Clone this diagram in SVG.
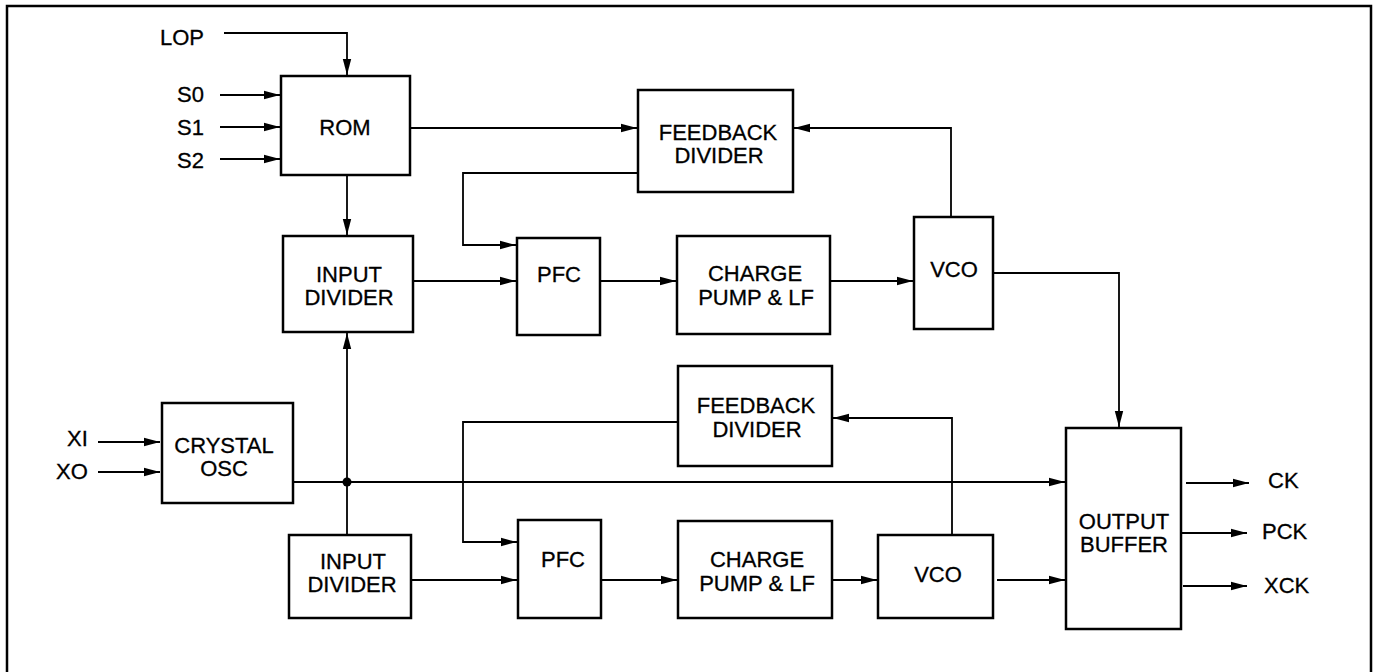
<svg xmlns="http://www.w3.org/2000/svg" width="1389" height="672" viewBox="0 0 1389 672">
<defs>
<marker id="ah" markerUnits="userSpaceOnUse" markerWidth="17" markerHeight="10" refX="16" refY="5" orient="auto">
<path d="M0,0.8 L16,5 L0,9.2 Z" fill="#000"/>
</marker>
</defs>
<style>
.box{fill:#fff;stroke:#000;stroke-width:2.5}
.ar{fill:none;stroke:#000;stroke-width:1.8;marker-end:url(#ah)}
text{font-family:"Liberation Sans",Arial,sans-serif;font-size:22px;fill:#000;stroke:#000;stroke-width:0.3;text-anchor:middle}
.lbl{text-anchor:start}
</style>
<rect x="0" y="0" width="1389" height="672" fill="#fff"/>
<path d="M7,672 L7,6 L1371,6 L1371,672" fill="none" stroke="#000" stroke-width="2.5"/>

<g id="connectors">
<path class="ar" d="M224,33 L347,33 L347,75"/>
<path class="ar" d="M220,95 L280,95"/>
<path class="ar" d="M220,127 L280,127"/>
<path class="ar" d="M220,159 L280,159"/>
<path class="ar" d="M347,175 L347,235"/>
<path class="ar" d="M410,128 L637,128"/>
<path class="ar" d="M638,173 L463,173 L463,245 L516,245"/>
<path class="ar" d="M413,281 L516,281"/>
<path class="ar" d="M600,281 L676,281"/>
<path class="ar" d="M830,281 L913,281"/>
<path class="ar" d="M951,217 L951,128 L794,128"/>
<path class="ar" d="M993,273 L1119,273 L1119,427"/>
<path class="ar" d="M98,442 L160,442"/>
<path class="ar" d="M98,472 L160,472"/>
<path class="ar" d="M293,482 L1065,482"/>
<path class="ar" d="M347,535 L347,333"/>
<circle cx="347" cy="482" r="4.5" fill="#000"/>
<path class="ar" d="M952,535 L952,418 L833,418"/>
<path class="ar" d="M678,422 L463,422 L463,542 L517,542"/>
<path class="ar" d="M411,580 L517,580"/>
<path class="ar" d="M601,580 L677,580"/>
<path class="ar" d="M832,580 L877,580"/>
<path class="ar" d="M997,580 L1065,580"/>
<path class="ar" d="M1186,483 L1249,483"/>
<path class="ar" d="M1181,533 L1247,533"/>
<path class="ar" d="M1183,586 L1247,586"/>
</g>

<g id="labels">
<text class="lbl" x="160" y="45">LOP</text>
<text class="lbl" x="177" y="102">S0</text>
<text class="lbl" x="177" y="135">S1</text>
<text class="lbl" x="177" y="168">S2</text>
<text class="lbl" x="67" y="446">XI</text>
<text class="lbl" x="56" y="479">XO</text>
<text class="lbl" x="1268" y="488">CK</text>
<text class="lbl" x="1262" y="539">PCK</text>
<text class="lbl" x="1264" y="593">XCK</text>
</g>

<g id="rom"><rect class="box" x="281" y="76" width="129" height="99"/><text x="345" y="135">ROM</text></g>
<g id="input-divider-1"><rect class="box" x="283" y="236" width="130" height="96"/><text x="349" y="282">INPUT</text><text x="349" y="305">DIVIDER</text></g>
<g id="feedback-divider-1"><rect class="box" x="638" y="90" width="155" height="102"/><text x="718" y="140">FEEDBACK</text><text x="719" y="163">DIVIDER</text></g>
<g id="pfc-1"><rect class="box" x="517" y="238" width="83" height="97"/><text x="559" y="282">PFC</text></g>
<g id="charge-pump-1"><rect class="box" x="677" y="236" width="153" height="98"/><text x="755" y="281">CHARGE</text><text x="756" y="305">PUMP &amp; LF</text></g>
<g id="vco-1"><rect class="box" x="914" y="217" width="79" height="112"/><text x="954" y="277">VCO</text></g>
<g id="crystal-osc"><rect class="box" x="162" y="403" width="131" height="100"/><text x="224" y="453">CRYSTAL</text><text x="224" y="476">OSC</text></g>
<g id="feedback-divider-2"><rect class="box" x="678" y="366" width="154" height="100"/><text x="756" y="413">FEEDBACK</text><text x="757" y="437">DIVIDER</text></g>
<g id="input-divider-2"><rect class="box" x="289" y="535" width="122" height="83"/><text x="353" y="569">INPUT</text><text x="352" y="592">DIVIDER</text></g>
<g id="pfc-2"><rect class="box" x="518" y="520" width="83" height="98"/><text x="563" y="567">PFC</text></g>
<g id="charge-pump-2"><rect class="box" x="678" y="521" width="154" height="97"/><text x="757" y="567">CHARGE</text><text x="757" y="591">PUMP &amp; LF</text></g>
<g id="vco-2"><rect class="box" x="878" y="535" width="115" height="83"/><text x="938" y="582">VCO</text></g>
<g id="output-buffer"><rect class="box" x="1066" y="428" width="115" height="201"/><text x="1124" y="529">OUTPUT</text><text x="1124" y="552">BUFFER</text></g>
</svg>
